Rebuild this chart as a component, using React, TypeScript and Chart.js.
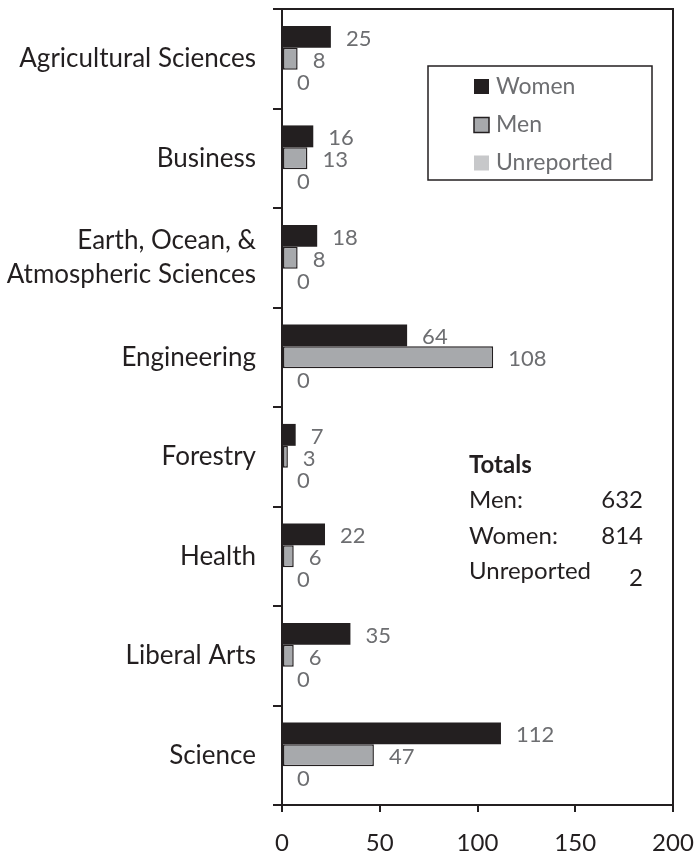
import React, { useEffect, useRef } from "react";
import { Chart, registerables } from "chart.js";

Chart.register(...registerables);

const categories: (string | string[])[] = [
  "Agricultural Sciences",
  "Business",
  ["Earth, Ocean, &", "Atmospheric Sciences"],
  "Engineering",
  "Forestry",
  "Health",
  "Liberal Arts",
  "Science",
];
const women = [25, 16, 18, 64, 7, 22, 35, 112];
const men = [8, 13, 8, 108, 3, 6, 6, 47];
const unreported = [0, 0, 0, 0, 0, 0, 0, 0];
const xTicks = [0, 50, 100, 150, 200];
const totalsTitle = "Totals";
const totalsLabels = ["Men:", "Women:", "Unreported"];
const totalsValues = ["632", "814", "2"];

const FONT = "Lato, sans-serif";
const DARK = "#231f20";
const LABEL_GRAY = "#6d6e71";

const frameAndLabels = {
  id: "frameAndLabels",
  afterDatasetsDraw(chart: any) {
    const { ctx, chartArea } = chart;
    ctx.save();
    ctx.strokeStyle = DARK;
    ctx.lineWidth = 2;
    ctx.beginPath();
    ctx.moveTo(chartArea.left - 9, chartArea.top);
    ctx.lineTo(chartArea.right, chartArea.top);
    ctx.lineTo(chartArea.right, chartArea.bottom);
    ctx.stroke();
    // value labels
    ctx.fillStyle = LABEL_GRAY;
    ctx.font = `22px ${FONT}`;
    ctx.textAlign = "left";
    ctx.textBaseline = "middle";
    chart.data.datasets.forEach((ds: any, di: number) => {
      const meta = chart.getDatasetMeta(di);
      meta.data.forEach((el: any, i: number) => {
        ctx.fillText(String(ds.data[i]), el.x + 15, el.y + 2);
      });
    });
    // legend box
    const lx = 428, ly = 66, lw = 224, lh = 114;
    ctx.strokeStyle = DARK;
    ctx.lineWidth = 1.5;
    ctx.strokeRect(lx, ly, lw, lh);
    const rows = [86.5, 125, 163];
    ctx.font = `23px ${FONT}`;
    chart.data.datasets.forEach((ds: any, di: number) => {
      const cy = rows[di];
      ctx.fillStyle = ds.backgroundColor;
      ctx.fillRect(474, cy - 7.5, 15, 15);
      if (ds.borderWidth && ds.borderColor !== ds.backgroundColor) {
        ctx.strokeStyle = ds.borderColor;
        ctx.lineWidth = 1.5;
        ctx.strokeRect(474, cy - 7.5, 15, 15);
      }
      ctx.fillStyle = LABEL_GRAY;
      ctx.fillText(ds.label, 496, cy);
    });
    // totals
    ctx.fillStyle = DARK;
    ctx.font = `bold 24px ${FONT}`;
    ctx.textAlign = "left";
    ctx.fillText(totalsTitle, 469, 465);
    ctx.font = `24px ${FONT}`;
    const ty = [500, 536, 571];
    const vy = [500, 536, 578];
    totalsLabels.forEach((t, i) => {
      ctx.textAlign = "left";
      ctx.fillText(t, 469, ty[i]);
      ctx.textAlign = "right";
      ctx.fillText(totalsValues[i], 643, vy[i]);
    });
    ctx.restore();
  },
};

export default function App() {
  const ref = useRef<HTMLCanvasElement>(null);
  useEffect(() => {
    const chart = new Chart(ref.current!, {
      type: "bar",
      data: {
        labels: categories,
        datasets: [
          {
            label: "Women",
            data: women,
            backgroundColor: DARK,
            borderColor: DARK,
            borderWidth: 0,
          },
          {
            label: "Men",
            data: men,
            backgroundColor: "#a7a9ac",
            borderColor: DARK,
            borderWidth: 1.5,
            borderSkipped: false,
          },
          {
            label: "Unreported",
            data: unreported,
            backgroundColor: "#c7c8ca",
            borderColor: "#c7c8ca",
            borderWidth: 0,
          },
        ],
      },
      options: {
        indexAxis: "y",
        animation: false,
        responsive: false,
        maintainAspectRatio: false,
        layout: { padding: { top: 9, right: 26, left: 0, bottom: 0 } },
        datasets: { bar: { categoryPercentage: 0.66, barPercentage: 1 } },
        plugins: { legend: { display: false }, tooltip: { enabled: false } },
        scales: {
          y: {
            type: "category",
            position: "left",
            afterFit: (s: any) => {
              s.width = 282;
              s.paddingTop = 0;
              s.paddingBottom = 0;
            },
            grid: {
              drawOnChartArea: false,
              drawTicks: true,
              tickLength: 9,
              color: DARK,
              lineWidth: 2,
              offset: true,
            },
            border: { display: true, color: DARK, width: 2 },
            ticks: {
              color: DARK,
              font: { family: FONT, size: 26, lineHeight: 1.3 },
              padding: 17,
            },
          },
          x: {
            type: "linear",
            position: "bottom",
            min: 0,
            max: 200,
            afterFit: (s: any) => {
              s.height = 47;
              s.paddingLeft = 0;
              s.paddingRight = 0;
            },
            afterBuildTicks: (s: any) => {
              s.ticks = xTicks.map((v) => ({ value: v }));
            },
            grid: {
              drawOnChartArea: false,
              drawTicks: true,
              tickLength: 7,
              color: DARK,
              lineWidth: 2,
            },
            border: { display: true, color: DARK, width: 2 },
            ticks: {
              color: DARK,
              font: { family: FONT, size: 24 },
              padding: 17,
              maxRotation: 0,
            },
          },
        },
      },
      plugins: [frameAndLabels],
    });
    return () => chart.destroy();
  }, []);
  return (
    <div style={{ position: "fixed", left: 0, top: 0, width: 699, height: 852, background: "#fff" }}>
      <canvas ref={ref} width={699} height={852} style={{ width: 699, height: 852 }} />
    </div>
  );
}
